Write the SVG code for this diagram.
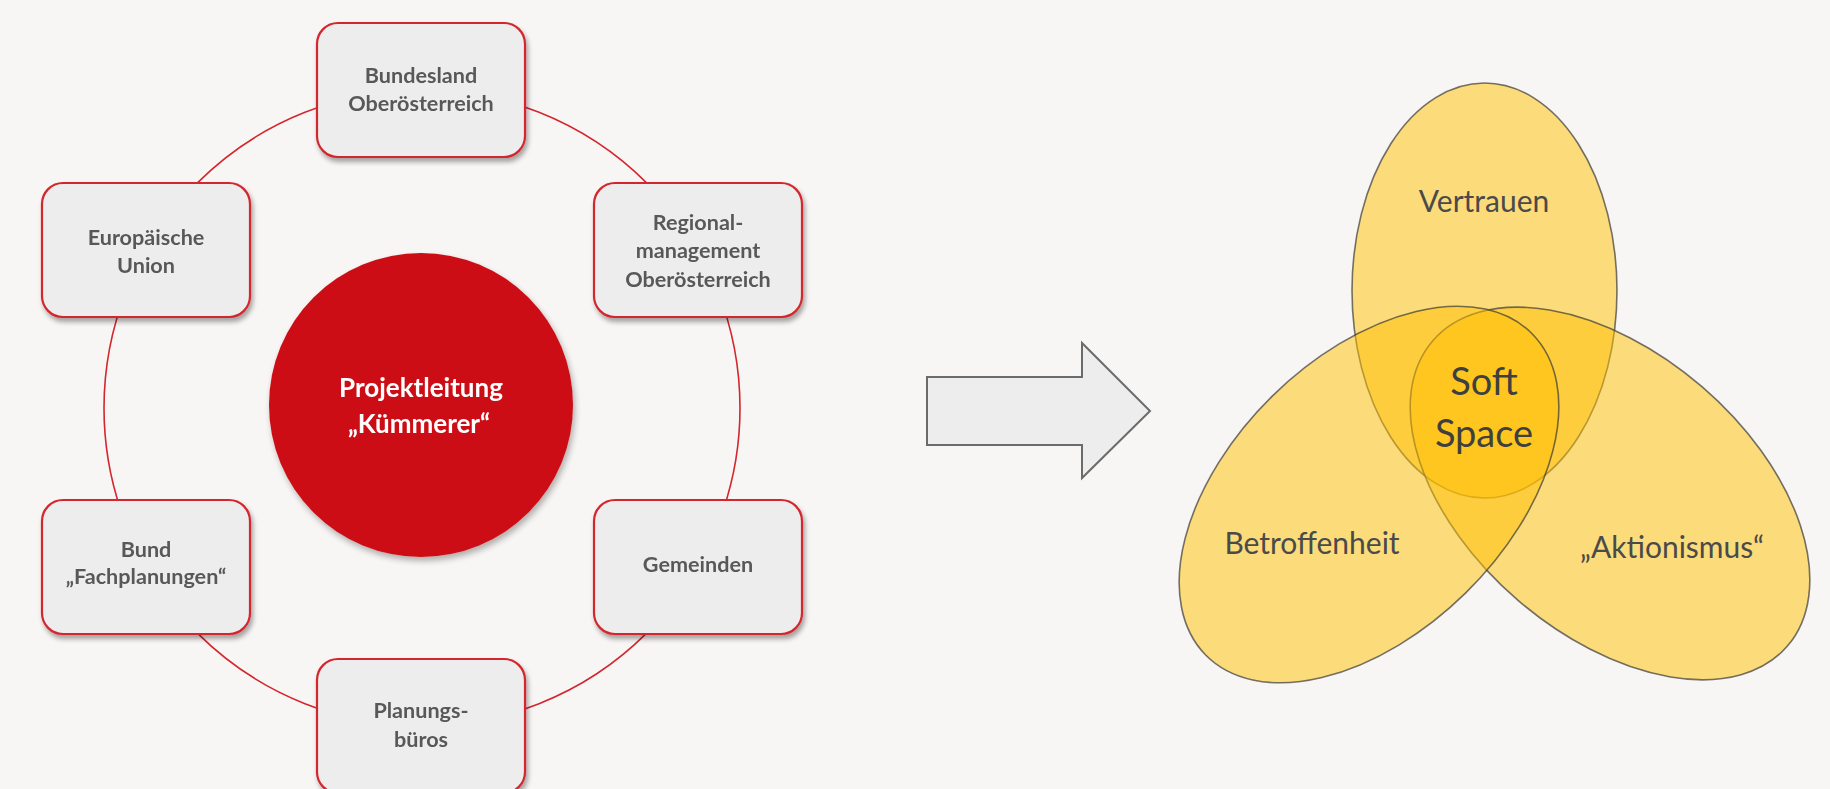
<svg xmlns="http://www.w3.org/2000/svg" width="1830" height="789" viewBox="0 0 1830 789">
  <defs>
    <filter id="shadow" x="-20%" y="-20%" width="140%" height="150%">
      <feGaussianBlur in="SourceAlpha" stdDeviation="2.5"/>
      <feOffset dx="1.5" dy="3.5" result="b"/>
      <feComponentTransfer><feFuncA type="linear" slope="0.35"/></feComponentTransfer>
      <feMerge><feMergeNode/><feMergeNode in="SourceGraphic"/></feMerge>
    </filter>
    <filter id="cshadow" x="-20%" y="-20%" width="140%" height="140%">
      <feGaussianBlur in="SourceAlpha" stdDeviation="3"/>
      <feOffset dx="2" dy="4" result="b"/>
      <feComponentTransfer><feFuncA type="linear" slope="0.3"/></feComponentTransfer>
      <feMerge><feMergeNode/><feMergeNode in="SourceGraphic"/></feMerge>
    </filter>
  </defs>
  <style>
    .box { fill: #EDEDED; stroke: #D3262D; stroke-width: 2.2; }
    .bt { font-family: Lato, "Open Sans", sans-serif; font-weight: 700; font-size: 21.6px; fill: #595959; text-anchor: middle; }
    .ct { font-family: Lato, "Open Sans", sans-serif; font-weight: 700; font-size: 26px; fill: #FFFFFF; text-anchor: middle; }
    .ring { fill: none; stroke: #D3262D; stroke-width: 1.6; }
    .ell { fill: #FFC000; fill-opacity: 0.5; stroke: #3A3A3A; stroke-opacity: 0.7; stroke-width: 1.6; }
    .vt { font-family: Lato, "Open Sans", sans-serif; font-weight: 400; font-size: 30px; fill: #4A4A4A; text-anchor: middle; }
    .st { font-family: Lato, "Open Sans", sans-serif; font-weight: 400; font-size: 38px; fill: #3F3F3F; text-anchor: middle; }
  </style>
  <rect x="0" y="0" width="1830" height="789" fill="#F7F6F4"/>

  <g id="connectors">
    <circle class="ring" cx="422" cy="408" r="318"/>
  </g>

  <g id="center" filter="url(#cshadow)">
    <circle cx="421" cy="405" r="152" fill="#CC1016"/>
    <text class="ct" x="421" y="397">Projektleitung</text>
    <text class="ct" x="419" y="433">„Kümmerer“</text>
  </g>

  <g id="node-bundesland" filter="url(#shadow)">
    <rect class="box" x="317" y="23" width="208" height="134" rx="21"/>
    <text class="bt" x="421" y="83">Bundesland</text>
    <text class="bt" x="421" y="111">Oberösterreich</text>
  </g>
  <g id="node-eu" filter="url(#shadow)">
    <rect class="box" x="42" y="183" width="208" height="134" rx="21"/>
    <text class="bt" x="146" y="245">Europäische</text>
    <text class="bt" x="146" y="273">Union</text>
  </g>
  <g id="node-regional" filter="url(#shadow)">
    <rect class="box" x="594" y="183" width="208" height="134" rx="21"/>
    <text class="bt" x="698" y="230">Regional-</text>
    <text class="bt" x="698" y="258">management</text>
    <text class="bt" x="698" y="287">Oberösterreich</text>
  </g>
  <g id="node-bund" filter="url(#shadow)">
    <rect class="box" x="42" y="500" width="208" height="134" rx="21"/>
    <text class="bt" x="146" y="557">Bund</text>
    <text class="bt" x="146" y="584">„Fachplanungen“</text>
  </g>
  <g id="node-gemeinden" filter="url(#shadow)">
    <rect class="box" x="594" y="500" width="208" height="134" rx="21"/>
    <text class="bt" x="698" y="572">Gemeinden</text>
  </g>
  <g id="node-planung" filter="url(#shadow)">
    <rect class="box" x="317" y="659" width="208" height="134" rx="21"/>
    <text class="bt" x="421" y="718">Planungs-</text>
    <text class="bt" x="421" y="747">büros</text>
  </g>

  <g id="arrow">
    <polygon points="927,377 1082,377 1082,343 1150,411 1082,478 1082,445 927,445" fill="#EDEDED" stroke="#6B6B6B" stroke-width="2"/>
  </g>

  <g id="venn">
    <ellipse class="ell" cx="1484.5" cy="290.5" rx="132.5" ry="207.5"/>
    <ellipse class="ell" cx="0" cy="0" rx="234" ry="141" transform="translate(1610 493.5) rotate(40.7)"/>
    <ellipse class="ell" cx="0" cy="0" rx="229" ry="138" transform="translate(1369 494.5) rotate(-44.5)"/>
    <text class="vt" x="1484" y="212">Vertrauen</text>
    <text class="vt" x="1312" y="554">Betroffenheit</text>
    <text class="vt" x="1672" y="558">„Aktionismus“</text>
    <text class="st" x="1484" y="395">Soft</text>
    <text class="st" x="1484" y="447">Space</text>
  </g>
</svg>
